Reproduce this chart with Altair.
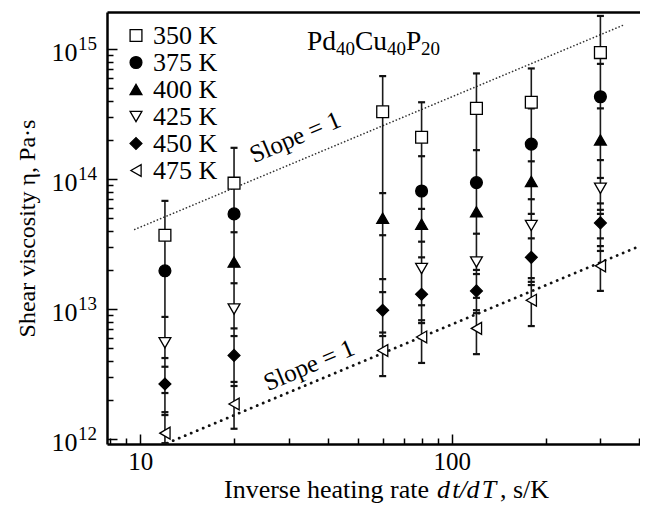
import altair as alt
import pandas as pd

# ---------------- data ----------------
rates = [12, 20, 60, 80, 120, 180, 300]
temps = ["350 K", "375 K", "400 K", "425 K", "450 K", "475 K"]
shapes = ["square", "circle", "triangle-up", "triangle-down", "diamond", "triangle-left"]
fills = ["white", "black", "black", "white", "black", "white"]

eta_350 = [3.7e13, 9.3e13, 3.3e14, 2.1e14, 3.5e14, 3.9e14, 9.4e14]
lo_350 = [None, None, 7.8e13, 1.5e14, 1.67e14, 3.5e14, 7.7e14]
hi_350 = [6.8e13, 1.74e14, 6.2e14, 3.9e14, 6.5e14, 7.1e14, 1.8e15]

eta_375 = [1.97e13, 5.4e13, None, 8.1e13, 9.4e13, 1.86e14, 4.3e14]
lo_375 = [8.7e12, 3.9e13, None, 5.9e13, None, 1.37e14, 3.5e14]
hi_375 = [None, None, None, None, None, None, None]

eta_400 = [None, 2.3e13, 5.0e13, 4.5e13, 5.6e13, 9.6e13, 2.0e14]
lo_400 = [None, 1.58e13, 3.7e13, 3.3e13, 3.8e13, 7.0e13, 1.4e14]
hi_400 = [None, None, None, None, None, None, None]

eta_425 = [5.5e12, 1.0e13, None, 2.05e13, 2.3e13, 4.4e13, 8.5e13]
lo_425 = [4.2e12, 7.1e12, None, None, 2.0e13, 3.5e13, 6.5e13]
hi_425 = [None, None, None, 2.5e13, None, 5.4e13, 1.02e14]

eta_450 = [2.65e12, 4.4e12, 9.8e12, 1.3e13, 1.38e13, 2.5e13, 4.6e13]
lo_450 = [2.26e12, 2.75e12, 6.6e12, 1.07e13, 9.8e12, 1.73e13, 3.5e13]
hi_450 = [3.6e12, 6.2e12, 1.7e13, None, 1.86e13, None, 5.4e13]

eta_475 = [1.11e12, 1.86e12, 4.8e12, 6.1e12, 7.1e12, 1.17e13, 2.15e13]
lo_475 = [9.3e11, 1.2e12, 3.05e12, 3.85e12, 4.5e12, 7.4e12, 1.38e13]
hi_475 = [1.61e12, 2.56e12, 6.2e12, 8.2e12, 9.3e12, 1.62e13, 2.8e13]

# additional error-bar caps visible on the columns
extra_cap_rates = [12, 60, 80, 120, 180, 300, 300]
extra_cap_etas = [1.53e12, 1.35e13, 7.8e12, 1.22e13, 1.53e13, 5.8e13, 3.05e13]

# slope = 1 guide lines (end points)
upper_rates = [9.6, 360]
upper_etas = [4.1e13, 1.55e15]
lower_rates = [12.2, 402]
lower_etas = [9.3e11, 3.06e13]

# y tick decades and their exponents
y_major = [1e12, 1e13, 1e14, 1e15]
y_exponents = ["12", "13", "14", "15"]

# ---------------- tables ----------------
series = [
    ("350 K", eta_350, lo_350, hi_350),
    ("375 K", eta_375, lo_375, hi_375),
    ("400 K", eta_400, lo_400, hi_400),
    ("425 K", eta_425, lo_425, hi_425),
    ("450 K", eta_450, lo_450, hi_450),
    ("475 K", eta_475, lo_475, hi_475),
]
pt_rows, cap_rows = [], []
for name, vals, los, his in series:
    for r, v, lo, hi in zip(rates, vals, los, his):
        if v is None:
            continue
        pt_rows.append({"rate": r, "temp": name, "eta": v,
                        "lo_f": lo if lo is not None else v,
                        "hi_f": hi if hi is not None else v})
        if lo is not None:
            cap_rows.append({"rate": r, "eta": lo})
        if hi is not None:
            cap_rows.append({"rate": r, "eta": hi})
for r, v in zip(extra_cap_rates, extra_cap_etas):
    cap_rows.append({"rate": r, "eta": v})
pts = pd.DataFrame(pt_rows)
caps = pd.DataFrame(cap_rows)
upper = pd.DataFrame({"rate": upper_rates, "eta": upper_etas})
lower = pd.DataFrame({"rate": lower_rates, "eta": lower_etas})
exps = pd.DataFrame({"eta": y_major, "e": y_exponents})

FONT = "Liberation Serif"
W, H = 533, 432
xs = alt.Scale(type="log", domain=[7.82, 402], nice=False)
ys = alt.Scale(type="log", domain=[9.16e11, 1.93e15], nice=False)

x_major = [10, 100]
x_minor = [8, 9, 20, 30, 40, 50, 60, 70, 80, 90, 200, 300, 400]
y_minor = [m * 10 ** e for e in (12, 13, 14) for m in range(2, 10)]

# ---------------- layers ----------------
upper_line = alt.Chart(upper).mark_line(
    strokeDash=[0.1, 3.4], strokeCap="round", strokeWidth=1.6, color="#333"
).encode(
    x=alt.X("rate:Q", scale=xs, axis=alt.Axis(
        values=x_minor, orient="bottom", tickSize={"expr": "-6"}, tickWidth=1.5,
        tickColor="black", labels=False, domain=False, grid=False, title=None)),
    y=alt.Y("eta:Q", scale=ys, axis=alt.Axis(
        values=y_minor, orient="left", tickSize={"expr": "-6"}, tickWidth=1.5,
        tickColor="black", labels=False, domain=False, grid=False, title=None)),
)

lower_line = alt.Chart(lower).mark_line(
    strokeDash=[0.1, 6.4], strokeCap="round", strokeWidth=2.8, color="#111"
).encode(
    x=alt.X("rate:Q", scale=xs, axis=alt.Axis(
        orient="top", ticks=False, labels=False, domain=True, domainColor="black",
        domainWidth=2.5, grid=False, title=None)),
    y=alt.Y("eta:Q", scale=ys, axis=None),
)

span = alt.Chart(pts).transform_aggregate(
    ymin="min(lo_f)", ymax="max(hi_f)", groupby=["rate"]
).mark_rule(color="#1a1a1a", strokeWidth=1.6).encode(
    x=alt.X("rate:Q", scale=xs, axis=None),
    y=alt.Y("ymin:Q", scale=ys, axis=None),
    y2="ymax:Q",
)

cap_layer = alt.Chart(caps).mark_tick(
    orient="horizontal", size=7, thickness=2.2, color="#111", opacity=1
).encode(
    x=alt.X("rate:Q", scale=xs, axis=None),
    y=alt.Y("eta:Q", scale=ys, axis=None),
)

legend = alt.Legend(
    title=None, orient="none", legendX=16, legendY=13, padding=0,
    labelFont=FONT, labelFontSize=26, labelColor="black", labelOffset=4,
    rowPadding=0, clipHeight=21, symbolSize=140, symbolStrokeColor="black",
    symbolStrokeWidth=1.3,
)

points = alt.Chart(pts).mark_point(
    size=140, stroke="black", strokeWidth=1.3, opacity=1
).encode(
    x=alt.X("rate:Q", scale=xs, axis=alt.Axis(
        values=x_major, orient="bottom", tickSize={"expr": "-10"}, tickWidth=1.5,
        tickColor="black", domain=True, domainColor="black", domainWidth=2.5,
        labelFont=FONT, labelFontSize=25, labelColor="black", labelPadding=15,
        labelExpr="format(datum.value, 'd')", grid=False, title=None)),
    y=alt.Y("eta:Q", scale=ys, axis=alt.Axis(
        values=y_major, orient="left", tickSize={"expr": "-10"}, tickWidth=1.5,
        tickColor="black", domain=True, domainColor="black", domainWidth=2.5,
        labelFont=FONT, labelFontSize=26, labelColor="black", labelPadding=40,
        labelOffset=3, labelExpr="'10'", grid=False,
        title="Shear viscosity η, Pa·s", titleFont=FONT, titleFontSize=24,
        titleFontWeight="normal", titleColor="black", titleX=-80, titleY=216,
        titleAngle=270, titleBaseline="middle", titleAlign="center")),
    shape=alt.Shape("temp:N", scale=alt.Scale(domain=temps, range=shapes), legend=legend),
    fill=alt.Fill("temp:N", scale=alt.Scale(domain=temps, range=fills), legend=legend),
    stroke=alt.Stroke("temp:N", scale=alt.Scale(domain=temps, range=["black"] * 6), legend=legend),
)

exp_text = alt.Chart(exps).mark_text(
    font=FONT, fontSize=19, align="left", baseline="alphabetic", color="black", dy=1
).encode(
    x=alt.value(-29),
    y=alt.Y("eta:Q", scale=ys, axis=None),
    text="e:N",
)

slope_text = alt.Chart(pd.DataFrame({
    "rate": [31.4, 34.8], "eta": [2.1e14, 3.7e12], "label": ["Slope = 1", "Slope = 1"]
})).mark_text(
    angle=337, font=FONT, fontSize=25, align="center", baseline="middle", color="black"
).encode(
    x=alt.X("rate:Q", scale=xs, axis=None),
    y=alt.Y("eta:Q", scale=ys, axis=None),
    text="label:N",
)

# alloy label Pd40Cu40P20 with subscripts
alloy_parts = ["Pd", "40", "Cu", "40", "P", "20"]
alloy_x = [200, 229, 248, 280, 299, 314]
alloy_sub = [False, True, False, True, False, True]
alloy_layers = []
for part, px, sub in zip(alloy_parts, alloy_x, alloy_sub):
    alloy_layers.append(
        alt.Chart(pd.DataFrame({"t": [part]})).mark_text(
            font=FONT, fontSize=19 if sub else 27.5, align="left",
            baseline="alphabetic", color="black"
        ).encode(x=alt.value(px), y=alt.value(43 if sub else 38), text="t:N")
    )

TY = 486
xt1 = alt.Chart(pd.DataFrame({"t": ["Inverse heating rate"]})).mark_text(
    font=FONT, fontSize=26, align="right", baseline="alphabetic", color="black"
).encode(x=alt.value(322), y=alt.value(TY), text="t:N")
xt2 = alt.Chart(pd.DataFrame({"t": ["d\u200at/d\u200aT"]})).mark_text(
    font=FONT, fontSize=26, fontStyle="italic", align="left", baseline="alphabetic", color="black"
).encode(x=alt.value(330), y=alt.value(TY), text="t:N")
xt3 = alt.Chart(pd.DataFrame({"t": [", s/K"]})).mark_text(
    font=FONT, fontSize=26, align="left", baseline="alphabetic", color="black"
).encode(x=alt.value(393), y=alt.value(TY), text="t:N")

chart = alt.layer(
    upper_line, lower_line, span, cap_layer, points, exp_text, slope_text,
    *alloy_layers, xt1, xt2, xt3
).resolve_axis(x="independent", y="independent").properties(
    width=W, height=H,
    padding={"left": 99, "top": 4, "right": 0, "bottom": 60},
    autosize=alt.AutoSizeParams(type="none"),
).configure_view(strokeWidth=0)

chart.save("out.html", embed_options={"renderer": "svg", "actions": False})
